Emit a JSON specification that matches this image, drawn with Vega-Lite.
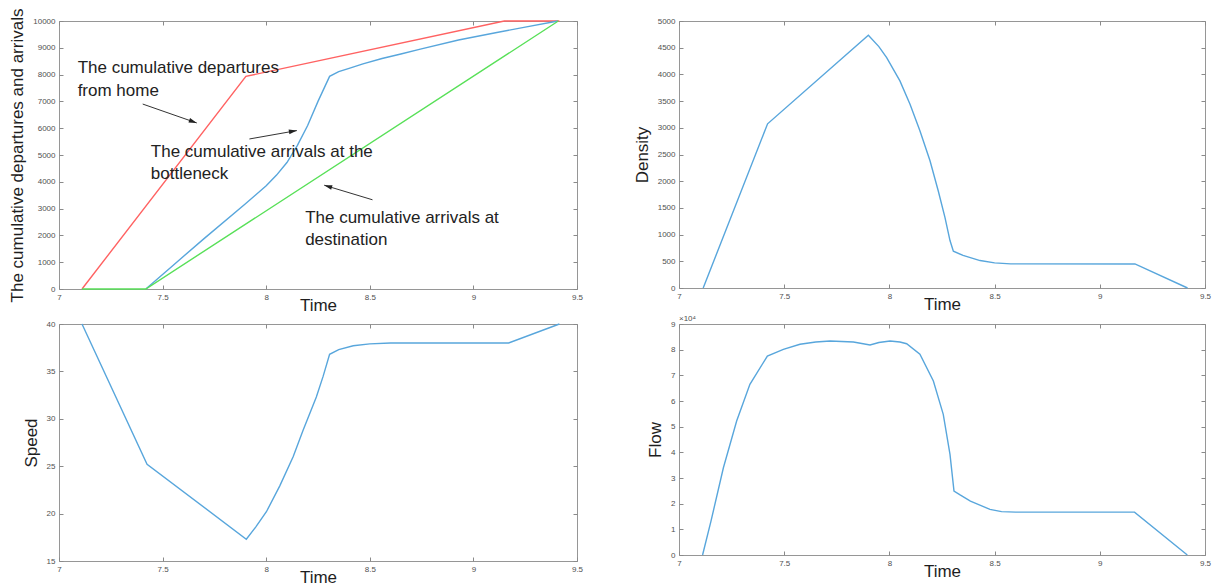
{
  "$schema": "https://vega.github.io/schema/vega-lite/v6.json",
  "background": "white",
  "padding": {"left": 8, "top": 7, "right": 5, "bottom": 0},
  "columns": 2,
  "bounds": "flush",
  "spacing": {"row": 35, "column": 102},
  "datasets": {
    "cum": [
      {"t": 7.111, "n": 0, "s": "departures"},
      {"t": 7.902, "n": 7933, "s": "departures"},
      {"t": 9.149, "n": 10000, "s": "departures"},
      {"t": 9.415, "n": 10000, "s": "departures"},
      {"t": 7.419, "n": 0, "s": "bottleneck"},
      {"t": 7.55, "n": 880, "s": "bottleneck"},
      {"t": 7.7, "n": 1880, "s": "bottleneck"},
      {"t": 7.9, "n": 3180, "s": "bottleneck"},
      {"t": 8.0, "n": 3850, "s": "bottleneck"},
      {"t": 8.05, "n": 4250, "s": "bottleneck"},
      {"t": 8.1, "n": 4720, "s": "bottleneck"},
      {"t": 8.15, "n": 5350, "s": "bottleneck"},
      {"t": 8.2, "n": 6100, "s": "bottleneck"},
      {"t": 8.25, "n": 7000, "s": "bottleneck"},
      {"t": 8.306, "n": 7935, "s": "bottleneck"},
      {"t": 8.35, "n": 8110, "s": "bottleneck"},
      {"t": 8.4, "n": 8230, "s": "bottleneck"},
      {"t": 8.467, "n": 8400, "s": "bottleneck"},
      {"t": 8.559, "n": 8600, "s": "bottleneck"},
      {"t": 8.65, "n": 8770, "s": "bottleneck"},
      {"t": 8.744, "n": 8950, "s": "bottleneck"},
      {"t": 8.928, "n": 9290, "s": "bottleneck"},
      {"t": 9.113, "n": 9570, "s": "bottleneck"},
      {"t": 9.25, "n": 9770, "s": "bottleneck"},
      {"t": 9.408, "n": 10000, "s": "bottleneck"},
      {"t": 7.111, "n": 0, "s": "destination"},
      {"t": 7.419, "n": 0, "s": "destination"},
      {"t": 9.41, "n": 10000, "s": "destination"}
    ],
    "notes": [
      {"t": 7.09, "n": 8242, "label": "The cumulative departures\nfrom home"},
      {"t": 7.443, "n": 5114, "label": "The cumulative arrivals at the\nbottleneck"},
      {"t": 8.188, "n": 2655, "label": "The cumulative arrivals at\ndestination"}
    ],
    "arrows": [
      {"id": "a1", "t": 7.404, "n": 6901, "t2": 7.665, "n2": 6196},
      {"id": "a2", "t": 7.919, "n": 5598, "t2": 8.148, "n2": 5911},
      {"id": "a3", "t": 8.513, "n": 3329, "t2": 8.28, "n2": 3873}
    ],
    "density": [
      {"t": 7.115, "k": 0}, {"t": 7.421, "k": 3075}, {"t": 7.9, "k": 4733},
      {"t": 7.95, "k": 4520}, {"t": 7.987, "k": 4314}, {"t": 8.05, "k": 3879},
      {"t": 8.098, "k": 3443}, {"t": 8.145, "k": 2944}, {"t": 8.193, "k": 2383},
      {"t": 8.232, "k": 1822}, {"t": 8.264, "k": 1324}, {"t": 8.288, "k": 888},
      {"t": 8.304, "k": 688}, {"t": 8.35, "k": 610}, {"t": 8.431, "k": 514},
      {"t": 8.5, "k": 470}, {"t": 8.576, "k": 452}, {"t": 9.167, "k": 450},
      {"t": 9.417, "k": 0}
    ],
    "speed": [
      {"t": 7.111, "v": 40}, {"t": 7.425, "v": 25.2}, {"t": 7.904, "v": 17.3},
      {"t": 7.95, "v": 18.6}, {"t": 8.001, "v": 20.2}, {"t": 8.065, "v": 22.9},
      {"t": 8.13, "v": 26.0}, {"t": 8.178, "v": 28.8}, {"t": 8.242, "v": 32.3},
      {"t": 8.275, "v": 34.5}, {"t": 8.306, "v": 36.8}, {"t": 8.35, "v": 37.3},
      {"t": 8.42, "v": 37.7}, {"t": 8.5, "v": 37.9}, {"t": 8.6, "v": 38.0},
      {"t": 9.17, "v": 38.0}, {"t": 9.415, "v": 40}
    ],
    "flow": [
      {"t": 7.112, "q": 0}, {"t": 7.152, "q": 13200}, {"t": 7.211, "q": 34000},
      {"t": 7.274, "q": 52200}, {"t": 7.337, "q": 66500}, {"t": 7.42, "q": 77500},
      {"t": 7.496, "q": 80100}, {"t": 7.575, "q": 82100}, {"t": 7.65, "q": 83000},
      {"t": 7.718, "q": 83400}, {"t": 7.829, "q": 83000}, {"t": 7.908, "q": 81800},
      {"t": 7.95, "q": 82800}, {"t": 8.003, "q": 83400}, {"t": 8.05, "q": 83000},
      {"t": 8.082, "q": 82300}, {"t": 8.145, "q": 78200}, {"t": 8.209, "q": 67800},
      {"t": 8.256, "q": 54800}, {"t": 8.288, "q": 39200}, {"t": 8.307, "q": 24900},
      {"t": 8.336, "q": 23400}, {"t": 8.385, "q": 21000}, {"t": 8.478, "q": 17800},
      {"t": 8.533, "q": 16900}, {"t": 8.6, "q": 16700}, {"t": 9.165, "q": 16700},
      {"t": 9.416, "q": 0}
    ],
    "exponent": [{"t": 7, "q": 90000, "label": "×10⁴"}]
  },
  "concat": [
    {
      "width": 518,
      "height": 268,
      "layer": [
        {
          "layer": [
            {
              "data": {"name": "cum"},
              "mark": {"type": "line", "strokeWidth": 1.4},
              "encoding": {
                "x": {"field": "t", "type": "quantitative", "scale": {"domain": [7, 9.5], "nice": false, "zero": false},
                      "axis": {"values": [7, 7.5, 8, 8.5, 9, 9.5], "format": "~g", "title": "Time"}},
                "y": {"field": "n", "type": "quantitative", "scale": {"domain": [0, 10000], "nice": false},
                      "axis": {"values": [0, 1000, 2000, 3000, 4000, 5000, 6000, 7000, 8000, 9000, 10000], "format": "d", "title": "The cumulative departures and arrivals", "titlePadding": 6}},
                "color": {"field": "s", "type": "nominal", "legend": null,
                          "scale": {"domain": ["departures", "bottleneck", "destination"], "range": ["#ff6262", "#58a6dc", "#58e058"]}}
              }
            },
            {
              "data": {"name": "notes"},
              "mark": {"type": "text", "align": "left", "baseline": "middle", "fontSize": 17, "font": "Liberation Sans", "color": "#222222", "lineBreak": "\n", "lineHeight": 22.5},
              "encoding": {
                "x": {"field": "t", "type": "quantitative", "scale": {"domain": [7, 9.5], "nice": false, "zero": false},
                      "axis": {"values": [7, 7.5, 8, 8.5, 9, 9.5], "format": "~g", "title": "Time"}},
                "y": {"field": "n", "type": "quantitative", "scale": {"domain": [0, 10000], "nice": false},
                      "axis": {"values": [0, 1000, 2000, 3000, 4000, 5000, 6000, 7000, 8000, 9000, 10000], "format": "d", "title": "The cumulative departures and arrivals", "titlePadding": 6}},
                "text": {"field": "label"}
              }
            },
            {
              "data": {"name": "arrows"},
              "mark": {"type": "rule", "color": "#333333", "strokeWidth": 1},
              "encoding": {
                "x": {"field": "t", "type": "quantitative", "scale": {"domain": [7, 9.5], "nice": false, "zero": false},
                      "axis": {"values": [7, 7.5, 8, 8.5, 9, 9.5], "format": "~g", "title": "Time"}},
                "y": {"field": "n", "type": "quantitative", "scale": {"domain": [0, 10000], "nice": false},
                      "axis": {"values": [0, 1000, 2000, 3000, 4000, 5000, 6000, 7000, 8000, 9000, 10000], "format": "d", "title": "The cumulative departures and arrivals", "titlePadding": 6}},
                "x2": {"field": "t2"},
                "y2": {"field": "n2"}
              }
            },
            {
              "data": {"name": "arrows"},
              "transform": [{"filter": "datum.id == 'a1'"}],
              "mark": {"type": "point", "shape": "M0,0L-0.6,2L0.6,2Z", "size": 64, "filled": true, "color": "#222222", "opacity": 1, "angle": 109.4},
              "encoding": {
                "x": {"field": "t2", "type": "quantitative", "scale": {"domain": [7, 9.5], "nice": false, "zero": false},
                      "axis": {"values": [7, 7.5, 8, 8.5, 9, 9.5], "format": "~g", "title": "Time"}},
                "y": {"field": "n2", "type": "quantitative", "scale": {"domain": [0, 10000], "nice": false},
                      "axis": {"values": [0, 1000, 2000, 3000, 4000, 5000, 6000, 7000, 8000, 9000, 10000], "format": "d", "title": "The cumulative departures and arrivals", "titlePadding": 6}}
              }
            },
            {
              "data": {"name": "arrows"},
              "transform": [{"filter": "datum.id == 'a2'"}],
              "mark": {"type": "point", "shape": "M0,0L-0.6,2L0.6,2Z", "size": 64, "filled": true, "color": "#222222", "opacity": 1, "angle": 80},
              "encoding": {
                "x": {"field": "t2", "type": "quantitative", "scale": {"domain": [7, 9.5], "nice": false, "zero": false},
                      "axis": {"values": [7, 7.5, 8, 8.5, 9, 9.5], "format": "~g", "title": "Time"}},
                "y": {"field": "n2", "type": "quantitative", "scale": {"domain": [0, 10000], "nice": false},
                      "axis": {"values": [0, 1000, 2000, 3000, 4000, 5000, 6000, 7000, 8000, 9000, 10000], "format": "d", "title": "The cumulative departures and arrivals", "titlePadding": 6}}
              }
            },
            {
              "data": {"name": "arrows"},
              "transform": [{"filter": "datum.id == 'a3'"}],
              "mark": {"type": "point", "shape": "M0,0L-0.6,2L0.6,2Z", "size": 64, "filled": true, "color": "#222222", "opacity": 1, "angle": 287},
              "encoding": {
                "x": {"field": "t2", "type": "quantitative", "scale": {"domain": [7, 9.5], "nice": false, "zero": false},
                      "axis": {"values": [7, 7.5, 8, 8.5, 9, 9.5], "format": "~g", "title": "Time"}},
                "y": {"field": "n2", "type": "quantitative", "scale": {"domain": [0, 10000], "nice": false},
                      "axis": {"values": [0, 1000, 2000, 3000, 4000, 5000, 6000, 7000, 8000, 9000, 10000], "format": "d", "title": "The cumulative departures and arrivals", "titlePadding": 6}}
              }
            }
          ]
        },
        {
          "data": {"name": "cum"},
          "mark": {"type": "line", "opacity": 0},
          "encoding": {
            "x": {"field": "t", "type": "quantitative", "scale": {"domain": [7, 9.5], "nice": false, "zero": false},
                  "axis": {"orient": "top", "values": [7, 7.5, 8, 8.5, 9, 9.5], "labels": false, "title": null}},
            "y": {"field": "n", "type": "quantitative", "scale": {"domain": [0, 10000], "nice": false},
                  "axis": {"orient": "right", "values": [0, 1000, 2000, 3000, 4000, 5000, 6000, 7000, 8000, 9000, 10000], "labels": false, "title": null}},
            "detail": {"field": "s"}
          }
        }
      ],
      "resolve": {"axis": {"x": "independent", "y": "independent"}}
    },
    {
      "width": 526,
      "height": 267,
      "data": {"name": "density"},
      "layer": [
        {
          "mark": {"type": "line", "strokeWidth": 1.4, "color": "#58a6dc"},
          "encoding": {
            "x": {"field": "t", "type": "quantitative", "scale": {"domain": [7, 9.5], "nice": false, "zero": false},
                  "axis": {"values": [7, 7.5, 8, 8.5, 9, 9.5], "format": "~g", "title": "Time"}},
            "y": {"field": "k", "type": "quantitative", "scale": {"domain": [0, 5000], "nice": false},
                  "axis": {"values": [0, 500, 1000, 1500, 2000, 2500, 3000, 3500, 4000, 4500, 5000], "format": "d", "title": "Density"}}
          }
        },
        {
          "mark": {"type": "line", "opacity": 0},
          "encoding": {
            "x": {"field": "t", "type": "quantitative", "scale": {"domain": [7, 9.5], "nice": false, "zero": false},
                  "axis": {"orient": "top", "values": [7, 7.5, 8, 8.5, 9, 9.5], "labels": false, "title": null}},
            "y": {"field": "k", "type": "quantitative", "scale": {"domain": [0, 5000], "nice": false},
                  "axis": {"orient": "right", "values": [0, 500, 1000, 1500, 2000, 2500, 3000, 3500, 4000, 4500, 5000], "labels": false, "title": null}}
          }
        }
      ],
      "resolve": {"axis": {"x": "independent", "y": "independent"}}
    },
    {
      "width": 518,
      "height": 237,
      "data": {"name": "speed"},
      "layer": [
        {
          "mark": {"type": "line", "strokeWidth": 1.4, "color": "#58a6dc"},
          "encoding": {
            "x": {"field": "t", "type": "quantitative", "scale": {"domain": [7, 9.5], "nice": false, "zero": false},
                  "axis": {"values": [7, 7.5, 8, 8.5, 9, 9.5], "format": "~g", "title": "Time"}},
            "y": {"field": "v", "type": "quantitative", "scale": {"domain": [15, 40], "nice": false, "zero": false},
                  "axis": {"values": [15, 20, 25, 30, 35, 40], "format": "d", "title": "Speed"}}
          }
        },
        {
          "mark": {"type": "line", "opacity": 0},
          "encoding": {
            "x": {"field": "t", "type": "quantitative", "scale": {"domain": [7, 9.5], "nice": false, "zero": false},
                  "axis": {"orient": "top", "values": [7, 7.5, 8, 8.5, 9, 9.5], "labels": false, "title": null}},
            "y": {"field": "v", "type": "quantitative", "scale": {"domain": [15, 40], "nice": false, "zero": false},
                  "axis": {"orient": "right", "values": [15, 20, 25, 30, 35, 40], "labels": false, "title": null}}
          }
        }
      ],
      "resolve": {"axis": {"x": "independent", "y": "independent"}}
    },
    {
      "width": 526,
      "height": 231,
      "layer": [
        {
          "layer": [
            {
              "data": {"name": "flow"},
              "mark": {"type": "line", "strokeWidth": 1.4, "color": "#58a6dc"},
              "encoding": {
                "x": {"field": "t", "type": "quantitative", "scale": {"domain": [7, 9.5], "nice": false, "zero": false},
                      "axis": {"values": [7, 7.5, 8, 8.5, 9, 9.5], "format": "~g", "title": "Time"}},
                "y": {"field": "q", "type": "quantitative", "scale": {"domain": [0, 90000], "nice": false},
                      "axis": {"values": [0, 10000, 20000, 30000, 40000, 50000, 60000, 70000, 80000, 90000], "labelExpr": "format(datum.value / 10000, 'd')", "title": "Flow"}}
              }
            },
            {
              "data": {"name": "exponent"},
              "mark": {"type": "text", "align": "left", "baseline": "alphabetic", "dy": -3, "fontSize": 8, "font": "Liberation Sans", "color": "#505050"},
              "encoding": {
                "x": {"field": "t", "type": "quantitative", "scale": {"domain": [7, 9.5], "nice": false, "zero": false},
                      "axis": {"values": [7, 7.5, 8, 8.5, 9, 9.5], "format": "~g", "title": "Time"}},
                "y": {"field": "q", "type": "quantitative", "scale": {"domain": [0, 90000], "nice": false},
                      "axis": {"values": [0, 10000, 20000, 30000, 40000, 50000, 60000, 70000, 80000, 90000], "labelExpr": "format(datum.value / 10000, 'd')", "title": "Flow"}},
                "text": {"field": "label"}
              }
            }
          ]
        },
        {
          "data": {"name": "flow"},
          "mark": {"type": "line", "opacity": 0},
          "encoding": {
            "x": {"field": "t", "type": "quantitative", "scale": {"domain": [7, 9.5], "nice": false, "zero": false},
                  "axis": {"orient": "top", "values": [7, 7.5, 8, 8.5, 9, 9.5], "labels": false, "title": null}},
            "y": {"field": "q", "type": "quantitative", "scale": {"domain": [0, 90000], "nice": false},
                  "axis": {"orient": "right", "values": [0, 10000, 20000, 30000, 40000, 50000, 60000, 70000, 80000, 90000], "labels": false, "title": null}}
          }
        }
      ],
      "resolve": {"axis": {"x": "independent", "y": "independent"}}
    }
  ],
  "config": {
    "font": "Liberation Sans",
    "view": {"stroke": "#969696", "strokeWidth": 1},
    "axis": {
      "grid": false,
      "domain": false,
      "tickColor": "#8a8a8a",
      "tickSize": -4,
      "tickWidth": 1,
      "labelFont": "Liberation Sans",
      "labelFontSize": 8,
      "labelColor": "#505050",
      "labelFlush": false,
      "labelOverlap": false,
      "titleFont": "Liberation Sans",
      "titleFontSize": 17,
      "titleFontWeight": "normal",
      "titleColor": "#1e1e1e"
    },
    "axisX": {"labelPadding": 8.5, "titlePadding": -4},
    "axisY": {"labelPadding": 8, "titlePadding": 6}
  }
}
